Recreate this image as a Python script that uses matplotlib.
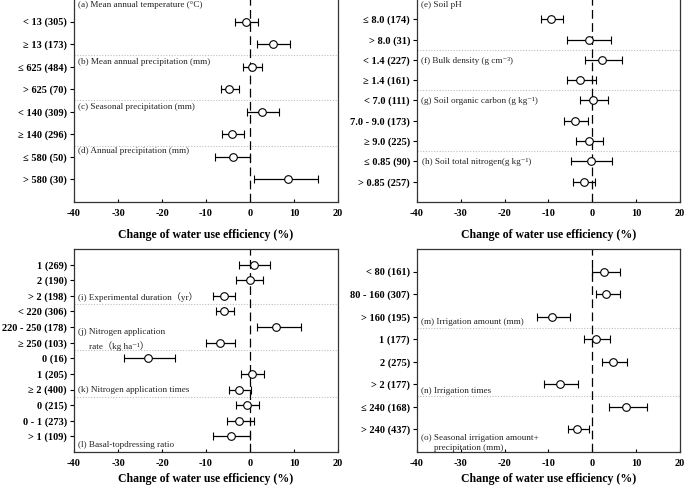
import matplotlib
matplotlib.use("Agg")
import matplotlib.pyplot as plt
import numpy as np

plt.rcParams['font.family'] = ['Liberation Serif', 'Noto Sans CJK SC', 'DejaVu Sans']

# ---------------- data ----------------
# Panel A (top-left): climate
cats_a = ["< 13 (305)", "\u2265 13 (173)", "\u2264 625 (484)", "> 625 (70)",
          "< 140 (309)", "\u2265 140 (296)", "\u2264 580 (50)", "> 580 (30)"]
mean_a = [-0.9, 5.2, 0.4, -4.7, 2.7, -4.0, -3.9, 8.7]
low_a = [-3.3, 1.7, -1.7, -6.7, -0.7, -6.4, -8.0, 0.9]
high_a = [1.8, 9.1, 2.7, -2.4, 6.7, -1.4, 0.0, 15.4]

# Panel B (top-right): soil
cats_b = ["\u2264 8.0 (174)", "> 8.0 (31)", "< 1.4 (227)", "\u2265 1.4 (161)",
          "< 7.0 (111)", "7.0 - 9.0 (173)", "\u2265 9.0 (225)",
          "\u2264 0.85 (90)", "> 0.85 (257)"]
mean_b = [-9.5, -0.8, 2.2, -2.7, 0.2, -3.9, -0.8, -0.3, -1.9]
low_b = [-11.8, -5.8, -1.6, -5.7, -2.7, -6.4, -3.8, -4.9, -4.3]
high_b = [-6.8, 4.2, 6.7, 0.8, 3.6, -1.1, 2.5, 4.4, 0.5]

# Panel C (bottom-left): duration and nitrogen management
cats_c = ["1 (269)", "2 (190)", "> 2 (198)", "< 220 (306)", "220 - 250 (178)",
          "\u2265 250 (103)", "0 (16)", "1 (205)", "\u2265 2 (400)",
          "0 (215)", "0 - 1 (273)", "> 1 (109)"]
mean_c = [0.9, -0.1, -6.0, -5.8, 6.0, -6.8, -23.1, 0.5, -2.4, -0.7, -2.4, -4.3]
low_c = [-2.4, -3.2, -8.5, -7.8, 1.6, -10.0, -28.7, -2.1, -4.7, -3.2, -5.3, -8.3]
high_c = [4.6, 2.9, -3.4, -3.6, 11.5, -3.3, -17.0, 3.2, 0.2, 2.1, 0.9, 0.0]

# Panel D (bottom-right): irrigation
cats_d = ["< 80 (161)", "80 - 160 (307)", "> 160 (195)", "1 (177)", "2 (275)",
          "> 2 (177)", "\u2264 240 (168)", "> 240 (437)"]
mean_d = [2.7, 3.2, -9.1, 0.8, 4.8, -7.4, 7.6, -3.5]
low_d = [0.0, 0.9, -12.7, -1.8, 2.3, -11.0, 3.7, -5.6]
high_d = [6.2, 6.2, -5.1, 4.1, 7.9, -3.2, 12.4, -0.8]

xticks = [-40, -30, -20, -10, 0, 10, 20]
xlabel = "Change of water use efficiency (%)"

# ---------------- figure ----------------
fig = plt.figure(figsize=(6.85, 4.9), dpi=100)
W, H = 685, 490


def make_ax(l, r, t, b):
    return fig.add_axes([l / W, 1 - b / H, (r - l) / W, (b - t) / H])


def panel(ax, cats, mean, low, high, ymax, seps, labels, labelpad):
    y = np.arange(1, len(cats) + 1)
    mean = np.array(mean)
    err = np.vstack([mean - np.array(low), np.array(high) - mean])
    ax.axvline(0, color='black', lw=0.9, dashes=(7, 3.5), zorder=1)
    for s in seps:
        ax.axhline(s, color='#bdbdbd', lw=0.8, ls=(0, (1, 1.5)), zorder=0)
    ax.errorbar(mean, y, xerr=err, fmt='o', color='black', ecolor='black',
                elinewidth=0.9, capsize=3.2, capthick=0.9, markersize=5.5,
                markerfacecolor='white', markeredgecolor='black',
                markeredgewidth=0.8, zorder=3)
    ax.set_xlim(-40, 20)
    ax.set_ylim(ymax, 0)
    ax.set_yticks(y)
    ax.set_yticklabels(cats, fontsize=7.5, fontweight='bold')
    ax.set_xticks(xticks)
    ax.set_xticklabels([str(t) for t in xticks], fontsize=7.5, fontweight='bold')
    ax.tick_params(axis='y', direction='out', length=3, width=0.8, pad=2)
    ax.tick_params(axis='x', direction='in', length=2.5, width=0.8, pad=5)
    ax.set_xlabel(xlabel, fontsize=8.5, fontweight='bold', labelpad=labelpad)
    for sp in ax.spines.values():
        sp.set_linewidth(0.9)
        sp.set_color('#333333')
    for (lx, ly, txt) in labels:
        ax.text(lx, ly, txt, fontsize=6.6, va='center', ha='left', color='#222222')


ax1 = make_ax(74, 338, -1, 202)
panel(ax1, cats_a, mean_a, low_a, high_a, 9, [2.5, 4.5, 6.5],
      [(-39.2, 0.27, "(a) Mean annual temperature (\u00b0C)"),
       (-39.2, 2.78, "(b) Mean annual precipitation (mm)"),
       (-39.2, 4.78, "(c) Seasonal precipitation (mm)"),
       (-39.2, 6.76, "(d) Annual precipitation (mm)")], 8)

ax2 = make_ax(417, 680, -1, 202)
panel(ax2, cats_b, mean_b, low_b, high_b, 10, [2.5, 4.5, 7.5],
      [(-39.2, 0.3, "(e) Soil pH"),
       (-39.2, 3.06, "(f) Bulk density (g cm\u207b\u00b3)"),
       (-39.2, 5.0, "(g) Soil organic carbon (g kg\u207b\u00b9)"),
       (-38.9, 8.02, "(h) Soil total nitrogen(g kg\u207b\u00b9)")], 8)

ax3 = make_ax(74, 338, 249, 452)
panel(ax3, cats_c, mean_c, low_c, high_c, 13, [3.5, 6.5, 9.5],
      [(-39.2, 3.11, "(i) Experimental duration\uff08yr\uff09"),
       (-39.2, 5.29, "(j) Nitrogen application"),
       (-36.7, 6.2, "rate\uff08kg ha\u207b\u00b9\uff09"),
       (-39.2, 9.06, "(k) Nitrogen application times"),
       (-39.2, 12.54, "(l) Basal-topdressing ratio")], 3.5)

ax4 = make_ax(417, 680, 249, 452)
panel(ax4, cats_d, mean_d, low_d, high_d, 9, [3.5, 6.5],
      [(-39.2, 3.22, "(m) Irrigation amount (mm)"),
       (-39.2, 6.28, "(n) Irrigation times"),
       (-39.2, 8.4, "(o) Seasonal irrigation amount+"),
       (-36.2, 8.82, "precipitation (mm)")], 3.5)

fig.savefig("out.png", dpi=100)
